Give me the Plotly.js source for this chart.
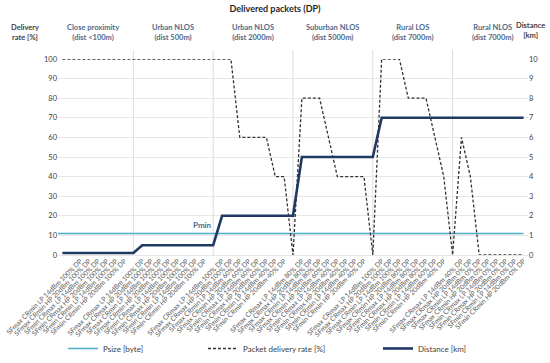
<!DOCTYPE html>
<html>
<head>
<meta charset="utf-8">
<script src="https://cdn.plot.ly/plotly-3.0.1.min.js"></script>
<style>
  html, body { margin: 0; padding: 0; background: #fff; }
  #chart { width: 550px; height: 363px; }
</style>
</head>
<body>
<div id="chart"></div>
<script>
// ---- Data -------------------------------------------------------------
const groupHeaders = [
  "Close proximity<br>(dist <100m)",
  "Urban NLOS<br>(dist 500m)",
  "Urban NLOS<br>(dist 2000m)",
  "Suburban NLOS<br>(dist 5000m)",
  "Rural LOS<br>(dist 7000m)",
  "Rural NLOS<br>(dist 7000m)"
];
const configs = [
  "SFmax CRmax LP 14dBm", "SFmax CRmax HP 20dBm",
  "SFmax CRmin LP 14dBm", "SFmax CRmin HP 20dBm",
  "SFmin CRmax LP 14dBm", "SFmin CRmax HP 20dBm",
  "SFmin CRmin LP 14dBm", "SFmin CRmin HP 20dBm"
];
// DP percentage written in each tick label, per group
const labelDP = [
  [100, 100, 100, 100, 100, 100, 100, 100],
  [100, 100, 100, 100, 100, 100, 100, 100],
  [100, 100, 60, 60, 60, 60, 40, 40],
  [80, 80, 80, 60, 40, 40, 40, 40],
  [100, 100, 100, 80, 80, 80, 60, 40],
  [40, 0, 0, 0, 0, 0, 0, 0]
];
// One blank separator category sits between consecutive groups.
const deliveryRate = [
  100, 100, 100, 100, 100, 100, 100, 100,
  100,
  100, 100, 100, 100, 100, 100, 100, 100,
  100,
  100, 100, 60, 60, 60, 60, 40, 40,
  0,
  80, 80, 80, 60, 40, 40, 40, 40,
  0,
  100, 100, 100, 80, 80, 80, 60, 40,
  0,
  60, 40, 0, 0, 0, 0, 0, 0
];
const distanceKm = [
  0.1, 0.1, 0.1, 0.1, 0.1, 0.1, 0.1, 0.1,
  0.1,
  0.5, 0.5, 0.5, 0.5, 0.5, 0.5, 0.5, 0.5,
  0.5,
  2, 2, 2, 2, 2, 2, 2, 2,
  2,
  5, 5, 5, 5, 5, 5, 5, 5,
  5,
  7, 7, 7, 7, 7, 7, 7, 7,
  7,
  7, 7, 7, 7, 7, 7, 7, 7
];
const psizeByte = 11;

// ---- Build categories ------------------------------------------------
const tickText = [];
const groupCenters = [];
const separators = [];
labelDP.forEach((dps, g) => {
  const start = tickText.length;
  dps.forEach((dp, i) => tickText.push(configs[i] + " " + dp + "% DP"));
  groupCenters.push((start + tickText.length - 1) / 2);
  if (g < labelDP.length - 1) { separators.push(tickText.length); tickText.push(""); }
});
const xIdx = tickText.map((_, i) => i);
const lastIdx = xIdx.length - 1;

const FONT = "Lato, 'Open Sans', sans-serif";
const HEAD = "#4e6a8c";

const traces = [
  {
    x: [-0.5, lastIdx], y: [psizeByte, psizeByte],
    name: "Psize [byte]", mode: "lines", yaxis: "y",
    line: { color: "#4bacc6", width: 1.5 },
    legend: "legend", hoverinfo: "skip"
  },
  {
    x: xIdx, y: deliveryRate,
    name: "Packet delivery rate [%]", mode: "lines", yaxis: "y",
    line: { color: "#333333", width: 1.3, dash: "3px,2px" },
    legend: "legend2"
  },
  {
    x: xIdx, y: distanceKm,
    name: "Distance [km]", mode: "lines", yaxis: "y2",
    line: { color: "#1f3864", width: 2.6 },
    legend: "legend3"
  }
];

const shapes = separators.map(s => ({
  type: "line", xref: "x", yref: "paper",
  x0: s, x1: s, y0: 0, y1: 1.045,
  line: { color: "#dcdcdc", width: 1 }, layer: "below"
}));

const annotations = groupHeaders.map((h, g) => ({
  text: "<b>" + h + "</b>", xref: "x", yref: "paper",
  x: groupCenters[g], y: 1.135, xanchor: "center", yanchor: "middle", showarrow: false,
  font: { family: FONT, size: 7.5, color: HEAD }, align: "center"
}));
annotations.push({
  text: "<b>Delivery<br>rate [%]</b>", xref: "paper", yref: "paper",
  x: -0.07, y: 1.135, xanchor: "center", yanchor: "middle", showarrow: false,
  font: { family: FONT, size: 7.5, color: "#404040" }, align: "center"
});
annotations.push({
  text: "<b>Distance<br>[km]</b>", xref: "paper", yref: "paper",
  x: 1.005, y: 1.145, xanchor: "center", yanchor: "middle", showarrow: false,
  font: { family: FONT, size: 7.5, color: "#404040" }, align: "center"
});
annotations.push({
  text: "<b>Pmin</b>", xref: "x", yref: "y",
  x: 15.8, y: psizeByte, yanchor: "bottom", yshift: 1, showarrow: false,
  font: { family: FONT, size: 8, color: HEAD }
});

const legendBase = {
  orientation: "h", yref: "container", y: 0.04, yanchor: "middle",
  xref: "container", xanchor: "left",
  font: { family: FONT, size: 8, color: "#404040" },
  bgcolor: "rgba(0,0,0,0)", borderwidth: 0
};

const layout = {
  width: 550, height: 363,
  paper_bgcolor: "#ffffff", plot_bgcolor: "#ffffff",
  margin: { l: 58, r: 22, t: 59, b: 108 },
  font: { family: FONT, color: "#404040" },
  title: {
    text: "<b>Delivered packets (DP)</b>",
    x: 0.5, xref: "container", y: 0.975, yref: "container", yanchor: "middle",
    font: { family: FONT, size: 9, color: "#262626" }
  },
  xaxis: {
    range: [-0.5, lastIdx + 0.5],
    tickmode: "array", tickvals: xIdx, ticktext: tickText,
    tickangle: -45, tickfont: { family: FONT, size: 6.8, color: "#595959" },
    showgrid: false, zeroline: false, showline: false, ticks: ""
  },
  yaxis: {
    range: [0, 100], dtick: 10, tick0: 0,
    gridcolor: "#e6e6e6", gridwidth: 1,
    zeroline: true, zerolinecolor: "#e6e6e6",
    showline: false, ticks: "",
    tickfont: { family: FONT, size: 7.5, color: "#404040" }
  },
  yaxis2: {
    range: [0, 10], dtick: 1, tick0: 0,
    overlaying: "y", side: "right",
    showgrid: false, zeroline: false, showline: false, ticks: "",
    tickfont: { family: FONT, size: 7.5, color: "#404040" }
  },
  showlegend: true,
  legend: Object.assign({}, legendBase, { x: 63 / 550 }),
  legend2: Object.assign({}, legendBase, { x: 203 / 550 }),
  legend3: Object.assign({}, legendBase, { x: 378 / 550 }),
  shapes: shapes,
  annotations: annotations
};

Plotly.newPlot("chart", traces, layout, { staticPlot: true, displayModeBar: false });
</script>
</body>
</html>
